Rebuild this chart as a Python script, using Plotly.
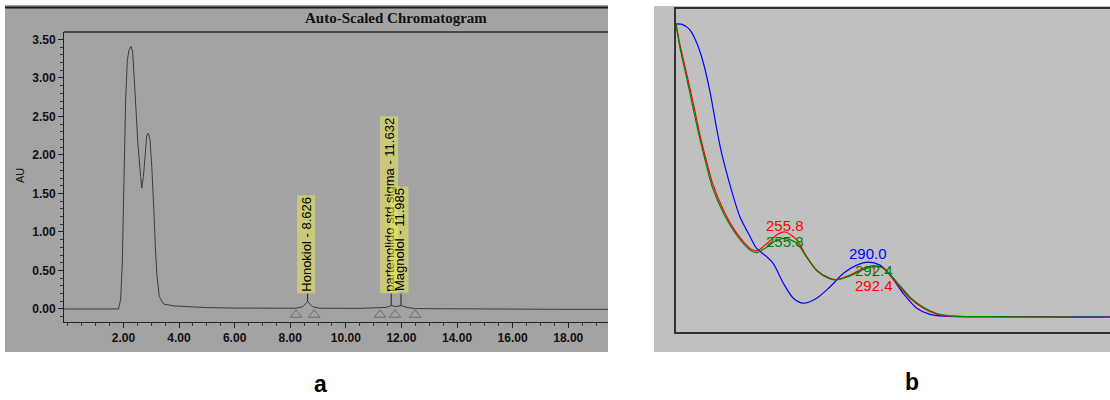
import plotly.graph_objects as go

W, H = 1110, 400

# ---------------- Panel a : chromatogram ----------------
chrom_time = [-0.13, 1.00, 1.82, 1.90, 1.96, 2.02, 2.08, 2.14, 2.20, 2.27, 2.33, 2.42, 2.52,
              2.62, 2.66, 2.72, 2.78, 2.84, 2.90, 2.96, 3.02, 3.05, 3.10, 3.15, 3.20, 3.29,
              3.44, 3.80, 4.40, 5.00, 5.96, 7.00, 8.20, 8.45, 8.626, 8.80, 9.05, 10.50,
              11.25, 11.45, 11.632, 11.80, 11.985, 12.20, 12.50, 14.00, 16.00, 18.00, 19.50]
chrom_au = [0.00, 0.00, 0.00, 0.12, 0.59, 1.67, 2.71, 3.23, 3.36, 3.41, 3.35, 2.80, 2.15,
            1.72, 1.57, 1.72, 2.06, 2.26, 2.28, 2.19, 1.85, 1.67, 1.24, 0.81, 0.46, 0.16,
            0.065, 0.04, 0.025, 0.018, 0.012, 0.01, 0.01, 0.03, 0.095, 0.03, 0.01, 0.008,
            0.01, 0.02, 0.045, 0.03, 0.045, 0.02, 0.005, 0.0, 0.0, -0.005, -0.005]

peak_names = ["Honokiol - 8.626", "partenolido std sigma - 11.632", "Magnolol - 11.985"]
peak_times = [8.626, 11.632, 11.985]
peak_apex = [0.095, 0.045, 0.045]
label_base = 0.20

tri_times = [8.21, 8.86, 11.23, 11.77, 12.49]
tri_level = -0.075

x_ticks_a = [2, 4, 6, 8, 10, 12, 14, 16, 18]
x_ticklabels_a = ["2.00", "4.00", "6.00", "8.00", "10.00", "12.00", "14.00", "16.00", "18.00"]
y_ticks_a = [0, 0.5, 1.0, 1.5, 2.0, 2.5, 3.0, 3.5]
y_ticklabels_a = ["0.00", "0.50", "1.00", "1.50", "2.00", "2.50", "3.00", "3.50"]

# ---------------- Panel b : UV spectra ----------------
wl_red = [210.9, 212.5, 215.3, 218.0, 220.8, 223.5, 226.0, 230.4, 235.9, 241.4, 244.1, 248.2,
          252.3, 255.8, 260.6, 264.7, 268.8, 274.3, 277.0, 282.5, 288.0, 292.4, 296.2, 301.7,
          307.2, 312.7, 318.2, 323.7, 337.4, 360.0, 400.0]
abs_red = [1.000, 0.930, 0.830, 0.730, 0.620, 0.530, 0.455, 0.365, 0.286, 0.234, 0.226, 0.250,
           0.280, 0.290, 0.263, 0.206, 0.160, 0.132, 0.128, 0.143, 0.166, 0.175, 0.166, 0.115,
           0.064, 0.030, 0.010, 0.003, 0.001, 0.000, -0.002]

wl_green = [210.9, 212.5, 215.3, 218.0, 220.8, 223.5, 226.0, 230.4, 235.9, 241.4, 244.1, 248.2,
            252.3, 255.8, 260.6, 264.7, 268.8, 274.3, 277.0, 282.5, 288.0, 292.4, 296.2, 301.7,
            307.2, 312.7, 318.2, 323.7, 337.4, 360.0, 400.0]
abs_green = [1.000, 0.920, 0.815, 0.710, 0.605, 0.515, 0.440, 0.355, 0.279, 0.228, 0.220, 0.238,
             0.262, 0.268, 0.252, 0.203, 0.158, 0.130, 0.127, 0.140, 0.162, 0.172, 0.168, 0.120,
             0.068, 0.033, 0.012, 0.004, 0.001, 0.000, -0.002]

wl_blue = [210.9, 213.9, 216.7, 219.5, 222.2, 225.0, 227.7, 229.5, 231.8, 234.5, 237.2, 241.4,
           244.1, 248.2, 250.9, 255.1, 259.2, 263.3, 268.8, 274.3, 279.8, 285.3, 290.0, 294.8,
           299.0, 304.4, 310.0, 315.4, 320.9, 340.0, 400.0]
abs_blue = [1.000, 0.997, 0.979, 0.934, 0.866, 0.764, 0.640, 0.565, 0.490, 0.411, 0.342, 0.274,
            0.234, 0.206, 0.183, 0.115, 0.064, 0.047, 0.064, 0.103, 0.149, 0.177, 0.187, 0.177,
            0.143, 0.081, 0.030, 0.009, 0.003, 0.001, 0.000]

peak_labels_b = ["255.8", "255.8", "290.0", "292.4", "292.4"]
peak_label_wl = [255.8, 255.8, 290.0, 292.4, 292.4]
peak_label_y = [0.311, 0.256, 0.215, 0.160, 0.106]
peak_label_color = ["#ff0000", "#008000", "#0000ff", "#008000", "#ff0000"]


def px(x):
    return x / W


def py(y):
    return 1 - y / H


fig = go.Figure()

# chromatogram trace
fig.add_trace(go.Scatter(x=chrom_time, y=chrom_au, mode="lines",
                         line=dict(color="#3c3c3c", width=1), xaxis="x", yaxis="y",
                         showlegend=False, hoverinfo="skip"))
# peak marker lines
mx, my = [], []
for t, a in zip(peak_times, peak_apex):
    mx += [t, t, None]
    my += [a, label_base, None]
fig.add_trace(go.Scatter(x=mx, y=my, mode="lines", line=dict(color="#222", width=1),
                         xaxis="x", yaxis="y", showlegend=False, hoverinfo="skip"))
# integration triangles
fig.add_trace(go.Scatter(x=tri_times, y=[tri_level] * len(tri_times), mode="markers",
                         marker=dict(symbol="triangle-up-open", size=10, color="#6e6e6e",
                                     line=dict(width=1)),
                         xaxis="x", yaxis="y", showlegend=False, hoverinfo="skip",
                         cliponaxis=False))

# spectra
for wl, ab, col in [(wl_blue, abs_blue, "#0000ff"), (wl_red, abs_red, "#ff0000"),
                    (wl_green, abs_green, "#008000")]:
    fig.add_trace(go.Scatter(x=wl, y=ab, mode="lines", line=dict(color=col, width=1.2,
                                                                   shape="spline", smoothing=0.8),
                             xaxis="x2", yaxis="y2", showlegend=False, hoverinfo="skip"))
# small red peak tick at 292.4
fig.add_trace(go.Scatter(x=[peak_label_wl[4], peak_label_wl[4]], y=[0.168, 0.138], mode="lines",
                         line=dict(color="#ff0000", width=1), xaxis="x2", yaxis="y2",
                         showlegend=False, hoverinfo="skip"))

shapes = [
    # grey panel backgrounds
    dict(type="rect", xref="paper", yref="paper", x0=px(5), x1=px(608), y0=py(352), y1=py(5),
         fillcolor="#a3a3a3", line=dict(width=0), layer="below"),
    dict(type="rect", xref="paper", yref="paper", x0=px(654), x1=1, y0=py(352), y1=py(6),
         fillcolor="#c0c0c0", line=dict(width=0), layer="below"),
    # header lines of panel a
    dict(type="line", xref="paper", yref="paper", x0=px(5), x1=px(608), y0=py(7.5), y1=py(7.5),
         line=dict(color="#1e1e1e", width=2)),
    dict(type="line", xref="paper", yref="paper", x0=px(64), x1=px(608), y0=py(32), y1=py(32),
         line=dict(color="#2a2a2a", width=1.3)),
]

annotations = [
    dict(text="<b>Auto-Scaled Chromatogram</b>", xref="paper", yref="paper", x=px(396), y=py(18),
         showarrow=False, font=dict(family="Liberation Serif", size=15, color="#111"),
         xanchor="center", yanchor="middle"),
    dict(text="AU", xref="paper", yref="paper", x=px(20), y=py(176), showarrow=False,
         textangle=-90, xanchor="center", yanchor="middle",
         font=dict(family="Liberation Sans", size=11, color="#111")),
    dict(text="<b>a</b>", xref="paper", yref="paper", x=px(320), y=py(384), showarrow=False,
         xanchor="center", yanchor="middle",
         font=dict(family="Liberation Sans", size=23, color="#000")),
    dict(text="<b>b</b>", xref="paper", yref="paper", x=px(912), y=py(382), showarrow=False,
         xanchor="center", yanchor="middle",
         font=dict(family="Liberation Sans", size=23, color="#000")),
]
for name, t in zip(peak_names, peak_times):
    annotations.append(dict(text=name, x=t, y=label_base, xref="x", yref="y", showarrow=False,
                            textangle=-90, xanchor="center", yanchor="bottom", xshift=-2,
                            bgcolor="rgba(240,240,80,0.5)", borderpad=1,
                            font=dict(family="Liberation Sans", size=13, color="#000")))
for txt, wl, yv, col in zip(peak_labels_b, peak_label_wl, peak_label_y, peak_label_color):
    annotations.append(dict(text=txt, x=wl, y=yv, xref="x2", yref="y2", showarrow=False,
                            xanchor="center", yanchor="middle",
                            font=dict(family="Liberation Sans", size=15, color=col)))

tickfont_a = dict(family="Liberation Sans", size=12, color="#111")

fig.update_layout(
    width=W, height=H, margin=dict(l=0, r=0, t=0, b=0),
    paper_bgcolor="white", plot_bgcolor="rgba(0,0,0,0)",
    shapes=shapes, annotations=annotations,
    xaxis=dict(domain=[px(64), px(608)], range=[-0.137, 19.43], showgrid=False, zeroline=False,
               showline=True, linecolor="#222", linewidth=1, ticks="outside", ticklen=5,
               tickcolor="#222", tickvals=x_ticks_a,
               ticktext=["<b>%s</b>" % s for s in x_ticklabels_a], tickfont=tickfont_a,
               minor=dict(dtick=0.5, tick0=0, ticks="outside", ticklen=3, tickcolor="#333"),
               anchor="y"),
    yaxis=dict(domain=[py(322), py(32)], range=[-0.169, 3.597], showgrid=False, zeroline=False,
               showline=True, linecolor="#222", linewidth=1, ticks="outside", ticklen=5,
               tickcolor="#222", tickvals=y_ticks_a,
               ticktext=["<b>%s</b>" % s for s in y_ticklabels_a], tickfont=tickfont_a,
               minor=dict(dtick=0.1, tick0=0, ticks="outside", ticklen=3, tickcolor="#333"),
               anchor="x"),
    xaxis2=dict(domain=[px(676), 1], range=[210.9, 389.5], showgrid=False, zeroline=False,
                showline=True, mirror=True, linecolor="#333", linewidth=1.5, showticklabels=False,
                ticks="", anchor="y2"),
    yaxis2=dict(domain=[py(332), py(9.3)], range=[-0.0512, 1.050], showgrid=False, zeroline=False,
                showline=True, linecolor="#333", linewidth=1.5, showticklabels=False, ticks="",
                anchor="x2"),
)

fig.write_html("out.html", config={"displayModeBar": False},
               post_script="document.body.style.margin='0';document.body.style.overflow='hidden';")
